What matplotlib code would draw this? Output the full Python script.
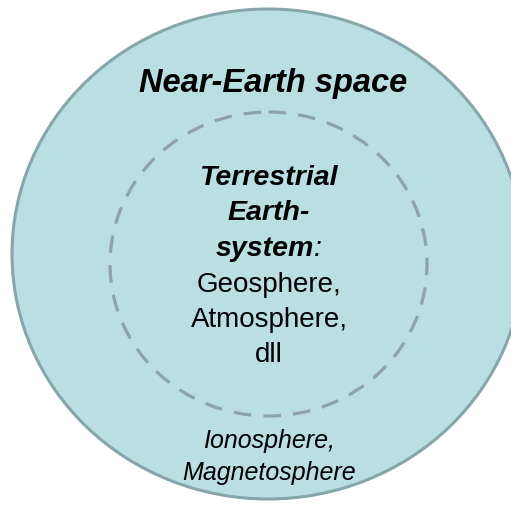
import matplotlib.pyplot as plt
from matplotlib.patches import Ellipse

plt.rcParams['font.family'] = ['Liberation Sans', 'DejaVu Sans']

# ---------- content ----------
outer_title = "Near-Earth space"
inner_heads = ["Terrestrial", "Earth-", "system"]
inner_items = ["Geosphere,", "Atmosphere,", "dll"]
outer_items = ["Ionosphere,", "Magnetosphere"]

fill_col = "#b9dfe3"
edge_col = "#86a6aa"
dash_col = "#8da3a6"

W, H = 511, 506
fig = plt.figure(figsize=(W / 100, H / 100), dpi=100)
ax = fig.add_axes([0, 0, 1, 1])
ax.set_xlim(0, W); ax.set_ylim(H, 0)
ax.axis("off")

# outer region + inner dashed boundary (pixel coordinates)
ax.add_patch(Ellipse((268, 255), 512, 490, facecolor=fill_col,
                     edgecolor=edge_col, lw=2.2))
ax.add_patch(Ellipse((268.5, 265), 317, 304, facecolor="none",
                     edgecolor=dash_col, lw=2.3, ls=(0, (5.5, 3.8))))

ax.text(273.5, 92, outer_title, ha="center", va="baseline",
        fontsize=23.5, fontweight="bold", fontstyle="italic")

cx = 269
y0, step = 185, 35.5
for i, s in enumerate(inner_heads):
    t = ax.text(cx - (4 if s == "system" else 0), y0 + i * step, s,
                ha="center", va="baseline", fontsize=20.5,
                fontweight="bold", fontstyle="italic")
# colon after "system" in regular weight
ax.annotate(":", xy=(1, 0), xycoords=t, va="bottom", ha="left",
            fontsize=20.5, fontstyle="italic")
for j, s in enumerate(inner_items):
    ax.text(cx, y0 + (3 + j) * step, s, ha="center", va="baseline",
            fontsize=20)

for k, s in enumerate(outer_items):
    ax.text(269, 448 + k * 32, s, ha="center", va="baseline",
            fontsize=18, fontstyle="italic")

fig.savefig("out.png", dpi=100)
